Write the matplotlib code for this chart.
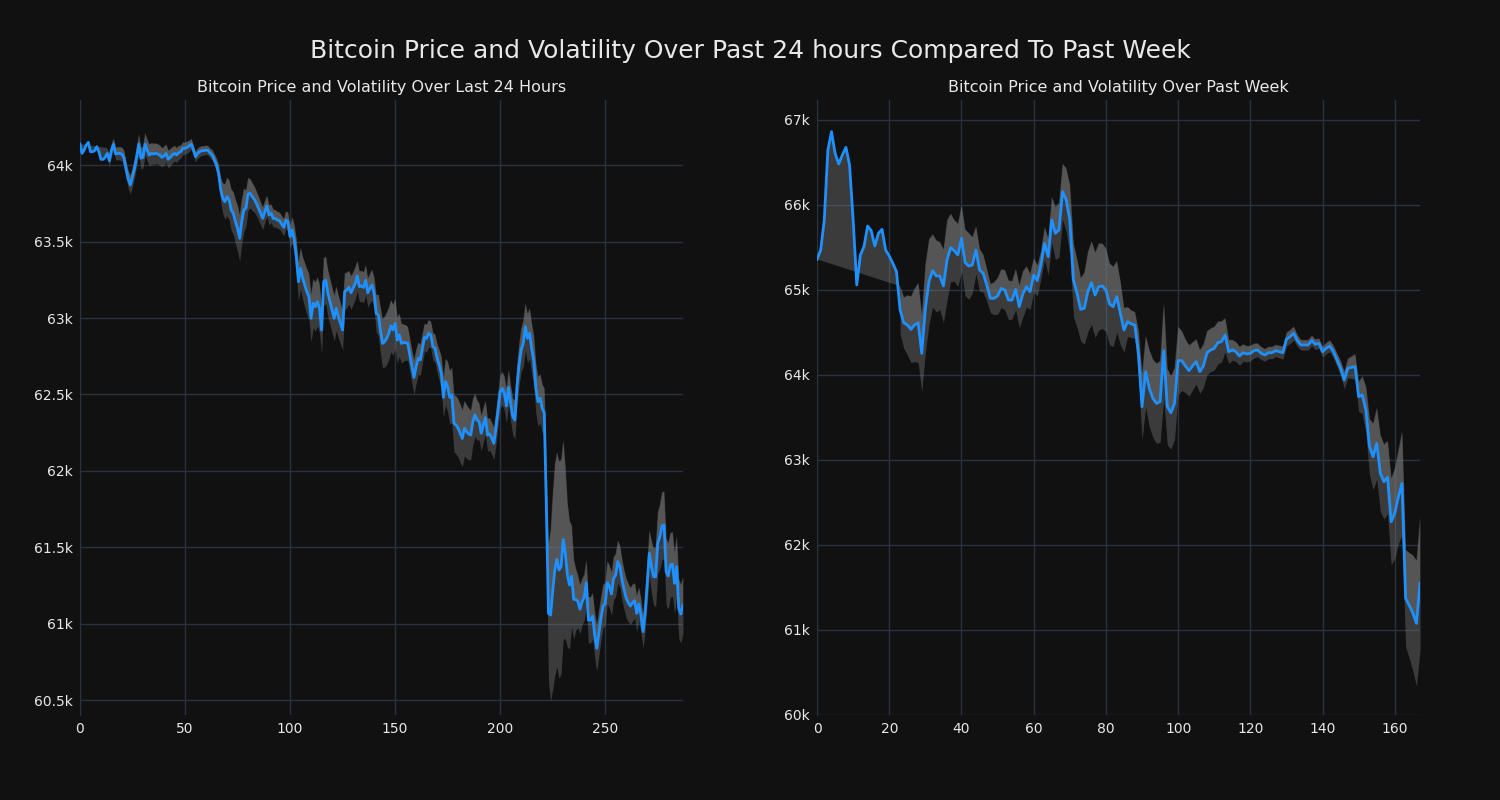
import numpy as np
import matplotlib
matplotlib.use("Agg")
import matplotlib.pyplot as plt
from matplotlib.ticker import FuncFormatter

# last 24 hours, 5 minute steps (288 points)
day_price = [
    64137, 64076, 64098, 64130, 64148, 64087, 64087, 64094, 64120, 64087,
    64037, 64037, 64050, 64076, 64028, 64098, 64135, 64072, 64076, 64076,
    64070, 64044, 63967, 63906, 63870, 63924, 63978, 64054, 64137, 64044,
    64050, 64137, 64098, 64065, 64076, 64072, 64076, 64072, 64065, 64050,
    64059, 64076, 64037, 64050, 64065, 64076, 64065, 64081, 64087, 64109,
    64109, 64115, 64124, 64137, 64098, 64054, 64076, 64087, 64094, 64094,
    64098, 64094, 64076, 64065, 64033, 64000, 63945, 63837, 63782, 63760,
    63793, 63771, 63706, 63684, 63630, 63586, 63521, 63630, 63706, 63717,
    63810, 63815, 63793, 63776, 63749, 63717, 63684, 63651, 63695, 63732,
    63673, 63684, 63651, 63651, 63640, 63636, 63614, 63592, 63640, 63630,
    63532, 63575, 63510, 63401, 63237, 63325, 63259, 63216, 63172, 63139,
    62998, 63096, 63074, 63107, 63063, 62921, 63237, 63248, 63161, 63107,
    63052, 62998, 63063, 63009, 62965, 62921, 63172, 63183, 63200, 63165,
    63194, 63226, 63274, 63205, 63209, 63200, 63248, 63165, 63194, 63216,
    63161, 63030, 63020, 62921, 62834, 62845, 62867, 62900, 62948, 62922,
    62965, 62856, 62889, 62834, 62839, 62839, 62834, 62758, 62682, 62612,
    62682, 62736, 62726, 62802, 62874, 62867, 62900, 62889, 62813, 62802,
    62736, 62693, 62638, 62481, 62584, 62551, 62481, 62497, 62311, 62301,
    62279, 62246, 62213, 62279, 62257, 62242, 62235, 62322, 62366, 62333,
    62322, 62246, 62301, 62348, 62235, 62242, 62213, 62181, 62279, 62399,
    62518, 62540, 62508, 62425, 62547, 62442, 62355, 62333, 62551, 62693,
    62791, 62834, 62943, 62867, 62900, 62800, 62720, 62540, 62453, 62475,
    62410, 62380, 61750, 61069, 61058, 61211, 61353, 61422, 61353, 61375,
    61553, 61462, 61320, 61255, 61313, 61161, 61161, 61146, 61096, 61146,
    61174, 61270, 61026, 61026, 61052, 60928, 60841, 60939, 61037, 61117,
    61130, 61270, 61244, 61196, 61298, 61320, 61407, 61375, 61287, 61222,
    61168, 61139, 61117, 61139, 61152, 61069, 61130, 61058, 60950, 61069,
    61265, 61462, 61375, 61309, 61309, 61527, 61571, 61640, 61647, 61342,
    61313, 61385, 61392, 61265, 61375, 61102, 61065, 61124,
]
day_vol = [np.nan] * 13 + [
    35, 35, 38, 40, 40, 42, 42, 45,
    50, 55, 60, 60, 60, 58, 58,
    65, 70, 70, 72, 70, 70,
    68, 68, 66, 65, 65, 62, 60, 60, 58, 55, 52, 50,
    48, 45, 42, 40, 38, 38, 36, 35, 35, 34,
    32, 32, 30, 30, 30, 30, 32, 35, 38, 45,
    60, 80, 100, 115, 125, 130, 135,
    140, 145, 150, 150, 145, 140,
    120, 105, 95, 90, 85, 80, 78, 75, 72, 70, 68, 65,
    60, 58, 55, 55, 55, 55, 55, 58, 60, 70,
    85, 100, 115, 125, 135, 140, 145, 150, 150, 155,
    160, 160, 160, 158, 155, 155, 155, 152, 150, 150, 148, 145, 140, 135, 130,
    120, 115, 110, 110, 105, 105, 100, 100, 100, 100, 98, 95, 95, 100, 105,
    120, 135, 150, 160, 165, 170, 170, 170, 165, 160,
    150, 140, 130, 120, 115, 110, 108, 110, 112, 110,
    105, 100, 95, 90, 90, 88, 88, 90, 92, 95, 100, 110,
    130, 150, 165, 175, 180, 185, 190, 190, 190, 185, 180, 175, 170, 160,
    150, 140, 130, 120, 115, 110, 110, 108, 105, 105, 105, 105,
    105, 105, 108, 110, 112, 115, 118, 120, 125, 130, 135, 140,
    150, 155, 160, 165, 165, 165, 165, 160, 160, 158, 160,
    250, 450, 560, 640, 690, 700, 710, 700, 650, 560, 470, 420, 330, 260,
    200, 170, 160, 150, 150, 150, 150, 150, 150, 150,
    150, 145, 140, 140, 140, 140, 140, 140, 140, 140, 140, 135, 135, 130, 130,
    125, 120, 120, 115, 115, 110, 110, 110, 115, 130,
    150, 170, 185, 195, 200, 210, 220, 220, 220, 215, 210, 210, 200, 200, 195, 190, 185,
]

# past week, hourly (168 points)
week_price = [
    65361, 65470, 65823, 66647, 66863, 66608, 66482, 66588, 66678, 66471,
    65823, 65059, 65412, 65510, 65753, 65698, 65518, 65667, 65714, 65470,
    65400, 65314, 65216, 64765, 64615, 64588, 64537, 64588, 64615, 64255,
    64784, 65098, 65227, 65165, 65165, 65047, 65353, 65498, 65463, 65412,
    65608, 65321, 65282, 65294, 65470, 65235, 65196, 65059, 64902, 64902,
    64929, 65019, 65000, 64882, 64882, 65008, 64804, 64953, 65039, 64980,
    65176, 65110, 65294, 65549, 65392, 65823, 65667, 65706, 66157, 66059,
    65823, 65118, 64961, 64772, 64784, 64980, 65086, 64941, 65039, 65047,
    64999, 64835, 64804, 64921, 64725, 64529, 64627, 64600, 64588, 64255,
    63627, 64039, 63843, 63725, 63666, 63686, 64286, 63627, 63556, 63666,
    64168, 64168, 64106, 64051, 64106, 64157, 64039, 64106, 64262, 64294,
    64313, 64380, 64392, 64470, 64274, 64294, 64274, 64223, 64262, 64247,
    64255, 64286, 64294, 64255, 64235, 64262, 64262, 64286, 64274, 64262,
    64420, 64451, 64490, 64404, 64353, 64353, 64353, 64404, 64361, 64372,
    64274, 64314, 64341, 64274, 64176, 64078, 63941, 64078, 64090, 64098,
    63745, 63765, 63588, 63157, 63039, 63196, 62843, 62745, 62796, 62274,
    62372, 62568, 62725, 61372, 61290, 61200, 61078, 61550,
]
week_vol = [np.nan] * 23 + [
    280, 300, 350, 390, 430, 470, 450, 520, 500, 430,
    420, 400, 430, 470, 400, 360, 370, 390, 390, 390,
    330, 280, 250, 220, 190, 170, 190, 215, 225, 235,
    230, 225, 240, 250, 270, 240, 210, 200, 180, 160,
    190, 215, 270, 310, 320, 330, 370, 410, 430, 400,
    370, 420, 470, 490, 500, 510, 500, 490, 480, 470,
    420, 370, 260, 175, 160, 155, 270, 390, 420, 450,
    460, 470, 480, 560, 450, 430, 420, 400, 350, 315,
    300, 280, 265, 255, 255, 255, 255, 255, 250, 240,
    200, 140, 120, 115, 110, 100, 95, 90, 85, 80,
    75, 72, 70, 70, 70, 72, 75, 80, 80, 80,
    70, 60, 60, 60, 60, 60, 60, 62, 65, 68,
    72, 80, 90, 100, 115, 130, 150, 175, 220, 275,
    330, 390, 420, 450, 440, 430, 510, 530, 550, 610,
    570, 620, 680, 740, 780,
]

assert len(day_price) == len(day_vol) == 288
assert len(week_price) == len(week_vol) == 168

bg = "#111111"
grid_c = "#283341"
line_c = "#1e90ff"
text_c = "#e8e8e8"


def draw_panel(ax, price, vol, title, ylim):
    price = np.array(price, dtype=float)
    vol = np.array(vol, dtype=float)
    x = np.arange(len(price))
    upper = price + vol
    lower = price - vol
    ok = ~np.isnan(vol)

    ax.fill_between(x, lower, upper, color="gray", alpha=0.38, lw=0)
    ax.fill(np.concatenate([x, x[ok][::-1]]),
            np.concatenate([price, upper[ok][::-1]]),
            color="gray", alpha=0.38, lw=0)
    ax.plot(x, price, color=line_c, lw=2, zorder=3)

    ax.set_facecolor(bg)
    ax.set_xlim(0, len(price) - 1)
    ax.set_ylim(*ylim)
    ax.grid(True, color=grid_c, lw=1)
    ax.set_axisbelow(True)
    for s in ["top", "right", "bottom"]:
        ax.spines[s].set_visible(False)
    ax.spines["left"].set_color(grid_c)
    ax.tick_params(colors=text_c, length=0, pad=5, labelsize=10)
    ax.yaxis.set_major_formatter(FuncFormatter(lambda v, p: f"{v / 1000:g}k"))
    ax.set_title(title, color=text_c, fontsize=11.5, pad=6)


fig = plt.figure(figsize=(15, 8), dpi=100, facecolor=bg)
ax1 = fig.add_axes([0.0533, 0.10625, 0.402, 0.76875])
ax2 = fig.add_axes([0.5447, 0.10625, 0.402, 0.76875])

draw_panel(ax1, day_price, day_vol, "Bitcoin Price and Volatility Over Last 24 Hours", (60405, 64425))
draw_panel(ax2, week_price, week_vol, "Bitcoin Price and Volatility Over Past Week", (60000, 67235))

fig.suptitle("Bitcoin Price and Volatility Over Past 24 hours Compared To Past Week",
             color=text_c, fontsize=18, y=0.951)

fig.savefig("out.png", dpi=100, facecolor=bg)
